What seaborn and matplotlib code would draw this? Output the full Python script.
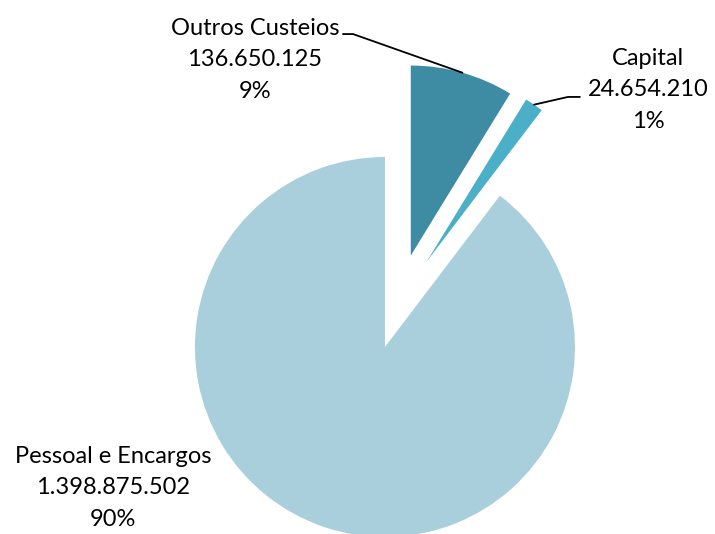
import numpy as np
import seaborn as sns
import matplotlib.pyplot as plt

sns.set_theme(style='white')
plt.rcParams['font.family'] = ['Lato', 'DejaVu Sans']

# data (clockwise from 12 o'clock)
categories = ['Outros Custeios', 'Capital', 'Pessoal e Encargos']
values = [136650125, 24654210, 1398875502]
pct_labels = ['9%', '1%', '90%']
colors = ['#3d8ca3', '#4bafc8', '#a9cfdc']
explode = [0.5, 0.5, 0.0]

def fmt_br(v):
    return '{:,}'.format(v).replace(',', '.')

fig = plt.figure(figsize=(7.15, 5.34), dpi=100)
ax = fig.add_axes([0, 0, 1, 1])
wedges, _ = ax.pie(values, colors=colors, explode=explode, startangle=90,
                   counterclock=False, radius=1.0,
                   wedgeprops=dict(linewidth=0))
# capital slice is pulled out a bit more upward in the original
wedges[1].set_center((0.22, 0.45))
ax.set_xlim(-2.026, 1.737)
ax.set_ylim(-0.984, 1.826)
ax.set_aspect('equal')
ax.axis('off')

labels = [f'{c}\n{fmt_br(v)}\n{p}' for c, v, p in zip(categories, values, pct_labels)]

# label text positions and leader line kinks
label_pos = [(-0.684, 1.511), (1.384, 1.353), (-1.432, -0.742)]
kinks = [[(-0.168, 1.647), (-0.221, 1.647)], [(0.963, 1.316), (1.026, 1.316)], None]

for w, lab, pos, kink in zip(wedges, labels, label_pos, kinks):
    ax.text(pos[0], pos[1], lab, ha='center', va='center', fontsize=17,
            linespacing=1.6, color='black')
    if kink is not None:
        mid = np.deg2rad((w.theta1 + w.theta2) / 2)
        cx, cy = w.center
        p0 = (cx + w.r * np.cos(mid), cy + w.r * np.sin(mid))
        xs = [p0[0], kink[0][0], kink[1][0]]
        ys = [p0[1], kink[0][1], kink[1][1]]
        ax.plot(xs, ys, color='black', lw=1.3)

plt.savefig('out.png', dpi=100)
plt.close('all')
